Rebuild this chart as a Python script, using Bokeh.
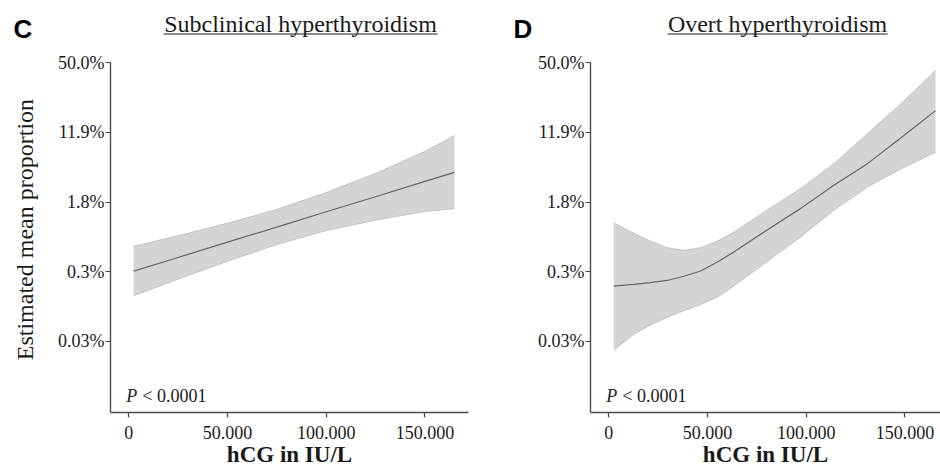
from bokeh.plotting import figure
from bokeh.layouts import row
from bokeh.models import Range1d, FixedTicker, Label, BoxAnnotation
from bokeh.core.properties import value
from bokeh.embed import file_html
from bokeh.resources import INLINE
import math

# ---- data (y values are on the logit scale of the estimated mean proportion) ----
y_ticks = [0, -2, -4, -6, -8]
y_tick_labels = ["50.0%", "11.9%", "1.8%", "0.3%", "0.03%"]
x_ticks = [0, 50000, 100000, 150000]
x_tick_labels = ["0", "50.000", "100.000", "150.000"]

panel_letters = ["C", "D"]
panel_titles = ["Subclinical hyperthyroidism", "Overt hyperthyroidism"]
y_label = "Estimated mean proportion"
x_label = "hCG in IU/L"
p_value_text = "< 0.0001"

c_x = [2400, 25000, 50000, 75000, 100000, 125000, 150000, 165000]
c_mean = [-5.98, -5.59, -5.15, -4.72, -4.28, -3.85, -3.41, -3.15]
c_upper = [-5.27, -4.97, -4.61, -4.21, -3.73, -3.18, -2.55, -2.09]
c_lower = [-6.69, -6.21, -5.70, -5.22, -4.82, -4.52, -4.27, -4.19]

d_x = [2500, 12500, 21000, 29500, 38000, 46500, 55000, 63500, 80000, 97000,
       114000, 131000, 148000, 165500]
d_mean = [-6.41, -6.36, -6.31, -6.25, -6.13, -5.98, -5.72, -5.43, -4.81, -4.19,
          -3.52, -2.90, -2.16, -1.38]
d_upper = [-4.60, -4.89, -5.12, -5.31, -5.39, -5.31, -5.12, -4.86, -4.24, -3.62,
           -2.90, -2.04, -1.18, -0.23]
d_lower = [-8.25, -7.80, -7.53, -7.31, -7.12, -6.94, -6.73, -6.40, -5.72, -5.01,
           -4.24, -3.57, -3.05, -2.57]

SERIF = "Liberation Serif"
SANS = "Liberation Sans"
TXT = "#1a1a1a"
AX = "#4a4a4a"

H = 473
Y_MIN, Y_MAX = -10.036, 1.778
X_MIN = -9270


def letter_fig(width, letter, letter_x, with_ylabel):
    p = figure(width=width, height=H, output_backend="svg", toolbar_location=None,
               x_range=Range1d(0, width), y_range=Range1d(H, 0),
               min_border=0, min_border_left=0, min_border_right=0,
               min_border_top=0, min_border_bottom=0)
    p.axis.visible = False
    p.grid.visible = False
    p.outline_line_color = None
    p.text(x=[letter_x], y=[33], text=[letter], text_font=value(SANS),
           text_font_style="bold", text_font_size="26px", text_color="black",
           text_align="left", text_baseline="middle")
    if with_ylabel:
        p.text(x=[24], y=[263], text=[y_label], text_font=value(SERIF),
               text_font_size="24px", text_color=TXT, angle=math.pi / 2,
               text_align="center", text_baseline="middle")
    return p


def make_panel(idx, x, mean, upper, lower, width, border_left, border_right, x_max,
               title_x, ul_left, ul_right):
    p = figure(width=width, height=H, output_backend="svg", toolbar_location=None,
               x_range=Range1d(X_MIN, x_max), y_range=Range1d(Y_MIN, Y_MAX),
               min_border_left=border_left, min_border_right=border_right,
               min_border_top=0, min_border_bottom=61)
    p.outline_line_color = None
    p.background_fill_color = "white"
    p.border_fill_color = "white"
    p.xgrid.visible = False
    p.ygrid.visible = False

    p.varea(x=x, y1=lower, y2=upper, fill_color="#d4d4d4", fill_alpha=1.0)
    p.line(x=x, y=upper, line_color="#c4c4c4", line_width=1)
    p.line(x=x, y=lower, line_color="#c4c4c4", line_width=1)
    p.line(x=x, y=mean, line_color="#666666", line_width=1.2)

    for ax in (p.xaxis[0], p.yaxis[0]):
        ax.axis_line_color = AX
        ax.axis_line_width = 1.4
        ax.major_tick_line_color = AX
        ax.major_tick_line_width = 1.2
        ax.major_tick_out = 5
        ax.major_tick_in = 0
        ax.minor_tick_line_color = None
        ax.major_label_text_font = SERIF
        ax.major_label_text_color = TXT
        ax.major_label_text_font_size = "18px"

    p.yaxis.ticker = FixedTicker(ticks=y_ticks)
    p.yaxis.major_label_overrides = {t: l for t, l in zip(y_ticks, y_tick_labels)}
    p.yaxis.bounds = (Y_MIN, 0)
    p.yaxis.major_label_standoff = 1

    p.xaxis.ticker = FixedTicker(ticks=x_ticks)
    p.xaxis.major_label_overrides = {t: l for t, l in zip(x_ticks, x_tick_labels)}
    p.xaxis.major_label_standoff = 8
    p.xaxis.axis_label = x_label
    p.xaxis.axis_label_text_font = SERIF
    p.xaxis.axis_label_text_font_style = "bold"
    p.xaxis.axis_label_text_font_size = "23px"
    p.xaxis.axis_label_text_color = TXT
    p.xaxis.axis_label_standoff = 0

    # underlined panel title
    p.add_layout(Label(x=title_x, y=1.10, text=panel_titles[idx], text_font=SERIF,
                       text_font_size="24px", text_color=TXT, text_align="center",
                       text_baseline="middle"))
    p.add_layout(BoxAnnotation(left=ul_left, right=ul_right, bottom=0.800, top=0.835,
                               fill_color=TXT, fill_alpha=1.0, line_color=None))
    # P value
    p.add_layout(Label(x=-1300, y=-9.577, text="P", text_font=SERIF, text_font_style="italic",
                       text_font_size="18px", text_color=TXT, text_baseline="middle"))
    p.add_layout(Label(x=-1300, y=-9.577, x_offset=16, text=p_value_text, text_font=SERIF,
                       text_font_size="18px", text_color=TXT, text_baseline="middle"))
    return p


fig_c = letter_fig(40, panel_letters[0], 13, True)
left = make_panel(0, c_x, c_mean, c_upper, c_lower, 430, 70, 2, 172100,
                  86980, 17580, 156390)
fig_d = letter_fig(64, panel_letters[1], 43, False)
right = make_panel(1, d_x, d_mean, d_upper, d_lower, 406, 56, 0, 168000,
                   85460, 29740, 141190)

layout = row(fig_c, left, fig_d, right)
open("out.html", "w").write(file_html(layout, INLINE))
